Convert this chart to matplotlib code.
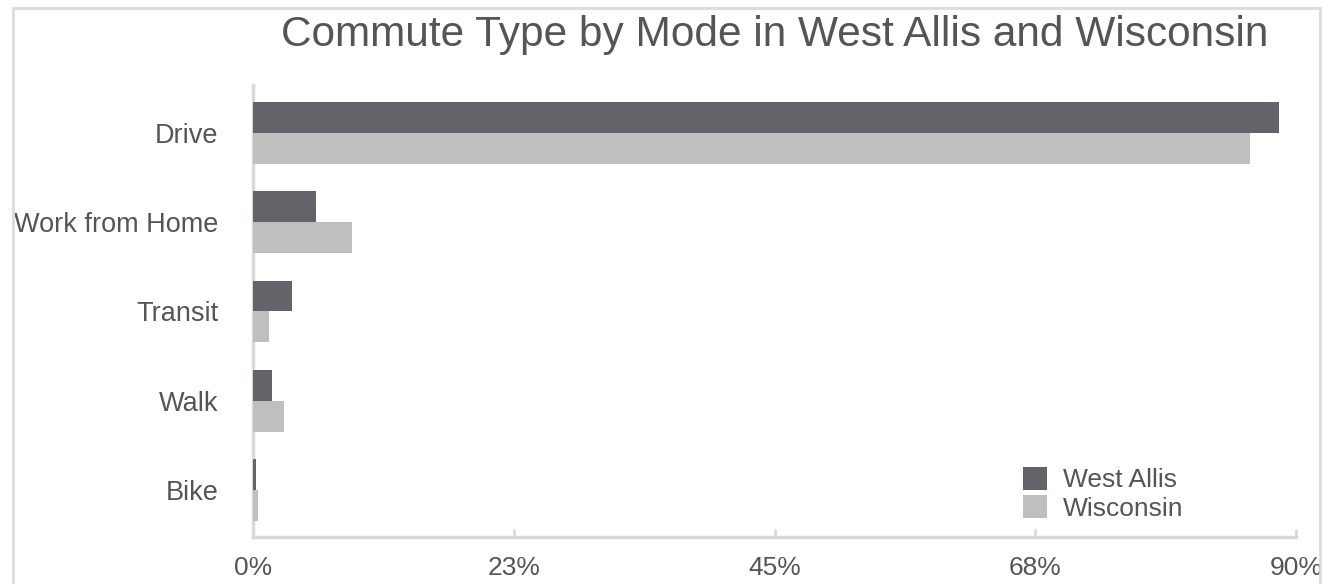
import numpy as np
import matplotlib.pyplot as plt
from matplotlib.patches import Rectangle

plt.rcParams['font.family'] = ['Liberation Sans', 'DejaVu Sans']

modes = ["Drive", "Work from Home", "Transit", "Walk", "Bike"]
west_allis = [88.5, 5.4, 3.4, 1.6, 0.25]
wisconsin = [86.0, 8.5, 1.4, 2.7, 0.45]
tick_vals = [0, 22.5, 45, 67.5, 90]
tick_labels = ["0%", "23%", "45%", "68%", "90%"]

dark = "#636469"
light = "#bfbfbf"
text_col = "#555555"
line_col = "#d9d9d9"

fig = plt.figure(figsize=(13.23, 5.84), dpi=100)
ax = fig.add_axes([253 / 1323, 47 / 584, 1043 / 1323, 452 / 584])

y = np.arange(len(modes))
h = 0.347
ax.barh(y - h / 2, west_allis, height=h, color=dark, label="West Allis", zorder=3)
ax.barh(y + h / 2, wisconsin, height=h, color=light, label="Wisconsin", zorder=3)

ax.set_xlim(0, 90)
ax.set_ylim(len(modes) - 1 + 0.527, -0.538)
ax.set_yticks(y)
ax.set_yticklabels(modes, fontsize=19.5, color=text_col)
ax.set_xticks(tick_vals)
ax.set_xticklabels(tick_labels, fontsize=19, color=text_col)
ax.tick_params(axis="y", length=0, pad=25)
ax.tick_params(axis="x", direction="in", length=6, width=2, color=line_col, pad=14)

for side in ["top", "right"]:
    ax.spines[side].set_visible(False)
for side in ["left", "bottom"]:
    ax.spines[side].set_color(line_col)
    ax.spines[side].set_linewidth(2.5)

fig.text(775 / 1323, 1 - 46 / 584, "Commute Type by Mode in West Allis and Wisconsin",
         ha="center", va="baseline", fontsize=30.5, color=text_col)

leg = ax.legend(loc="upper left", bbox_to_anchor=(1023 / 1323, 1 - 467 / 584),
                bbox_transform=fig.transFigure, frameon=False, fontsize=19,
                borderpad=0, borderaxespad=0, handlelength=0.9, handleheight=0.95,
                handletextpad=0.6, labelspacing=0.1)
for t in leg.get_texts():
    t.set_color(text_col)

# light outer frame
fig.patches.append(Rectangle((13 / 1323, -0.05), (1320 - 13) / 1323, 1.05 - 8 / 584,
                             transform=fig.transFigure, fill=False,
                             edgecolor="#dcdcdc", linewidth=2))

fig.savefig("out.png", dpi=100)
